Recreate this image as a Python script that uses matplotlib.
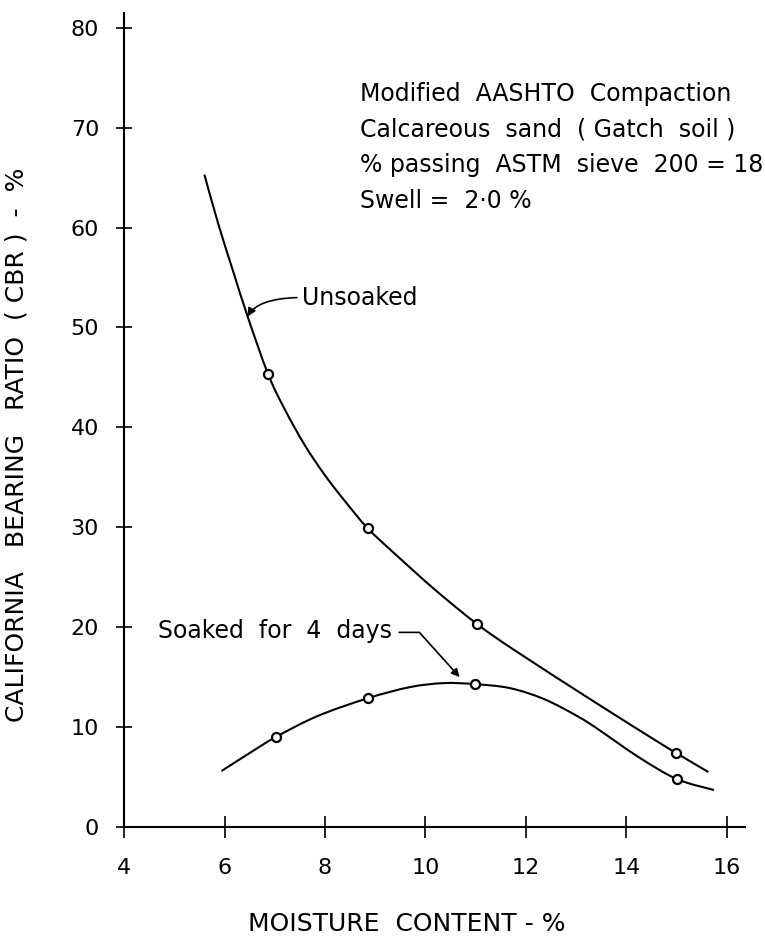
import numpy as np
import matplotlib
matplotlib.use("Agg")
import matplotlib.pyplot as plt
from matplotlib.path import Path
from matplotlib.patches import PathPatch

# measured points (moisture %, CBR %)
unsoaked_x = [6.87, 8.85, 11.03, 14.99]
unsoaked_y = [45.3, 29.9, 20.3, 7.4]
soaked_x = [7.02, 8.86, 10.98, 15.0]
soaked_y = [9.0, 12.9, 14.3, 4.8]

# hand drawn curves
unsoaked_curve_x = [5.60, 5.88, 6.18, 6.46, 6.87, 7.20, 7.60, 8.00, 8.40, 8.85,
                    9.40, 10.20, 11.03, 11.80, 13.40, 14.60, 14.99, 15.63]
unsoaked_curve_y = [65.3, 60.3, 55.5, 51.1, 45.3, 41.8, 38.2, 35.2, 32.6, 29.9,
                    27.3, 23.7, 20.3, 17.6, 12.4, 8.6, 7.4, 5.5]
soaked_curve_x = [5.94, 6.50, 7.02, 7.85, 8.86, 9.69, 10.36, 10.98, 11.68,
                  12.36, 13.02, 13.43, 14.24, 15.0, 15.74]
soaked_curve_y = [5.6, 7.4, 9.0, 11.1, 12.9, 14.0, 14.4, 14.3, 13.9,
                  12.8, 11.1, 9.8, 7.0, 4.8, 3.7]

xticks = [4, 6, 8, 10, 12, 14, 16]
yticks = [0, 10, 20, 30, 40, 50, 60, 70, 80]

note = ("Modified  AASHTO  Compaction\n"
        "Calcareous  sand  ( Gatch  soil )\n"
        "% passing  ASTM  sieve  200 = 18\n"
        "Swell =  2\u00b70 %")


def smooth_path(xs, ys):
    # draw the traced line as a smooth bezier path (catmull-rom handles)
    p = np.column_stack([xs, ys])
    verts = [p[0]]
    codes = [Path.MOVETO]
    n = len(p)
    for i in range(n - 1):
        p0 = p[max(i - 1, 0)]
        p3 = p[min(i + 2, n - 1)]
        c1 = p[i] + (p[i + 1] - p0) / 6.0
        c2 = p[i + 1] - (p3 - p[i]) / 6.0
        verts += [c1, c2, p[i + 1]]
        codes += [Path.CURVE4] * 3
    return Path(verts, codes)


plt.rcParams['font.family'] = ['DejaVu Sans']

fig = plt.figure(figsize=(7.65, 9.5), dpi=100)
ax = fig.add_axes([0.1621, 0.1295, 0.8112, 0.857])

for cx, cy in [(unsoaked_curve_x, unsoaked_curve_y), (soaked_curve_x, soaked_curve_y)]:
    ax.add_patch(PathPatch(smooth_path(cx, cy), fill=False, edgecolor='black', lw=1.5))
ax.plot(unsoaked_x, unsoaked_y, 'o', ms=6.5, mfc='white', mec='black', mew=1.6)
ax.plot(soaked_x, soaked_y, 'o', ms=6.5, mfc='white', mec='black', mew=1.6)

ax.set_xlim(4, 16.35)
ax.set_ylim(0, 81.5)
ax.set_xticks(xticks)
ax.set_yticks(yticks)
for s in ['top', 'right']:
    ax.spines[s].set_visible(False)
for s in ['left', 'bottom']:
    ax.spines[s].set_linewidth(1.5)
ax.tick_params(axis='y', direction='inout', length=12, width=1.2, pad=12, labelsize=16)
ax.tick_params(axis='x', direction='inout', length=16, width=1.2, pad=14, labelsize=16)

ax.set_xlabel("MOISTURE  CONTENT - %", fontsize=18)
ax.set_ylabel("CALIFORNIA   BEARING   RATIO  ( CBR )  -  %", fontsize=18)
ax.xaxis.set_label_coords(0.456, -0.104)
ax.yaxis.set_label_coords(-0.154, 0.47)

ax.text(8.7, 74.6, note, ha='left', va='top', fontsize=17, linespacing=1.62)

ax.annotate("Unsoaked", xy=(6.46, 51.1), xytext=(7.55, 53.0), ha='left', va='center',
            fontsize=17,
            arrowprops=dict(arrowstyle='-|>', color='black', lw=1.2, mutation_scale=12,
                            shrinkA=2, shrinkB=0, relpos=(0.0, 0.5),
                            connectionstyle='angle3,angleA=0,angleB=60'))
ax.annotate("Soaked  for  4  days", xy=(10.68, 15.0), xytext=(9.34, 19.6), ha='right',
            va='center', fontsize=17,
            arrowprops=dict(arrowstyle='-|>', color='black', lw=1.2, mutation_scale=12,
                            shrinkA=3, shrinkB=0, relpos=(1.0, 0.45),
                            connectionstyle='angle,angleA=0,angleB=132,rad=0'))

fig.savefig("out.png", dpi=100)
